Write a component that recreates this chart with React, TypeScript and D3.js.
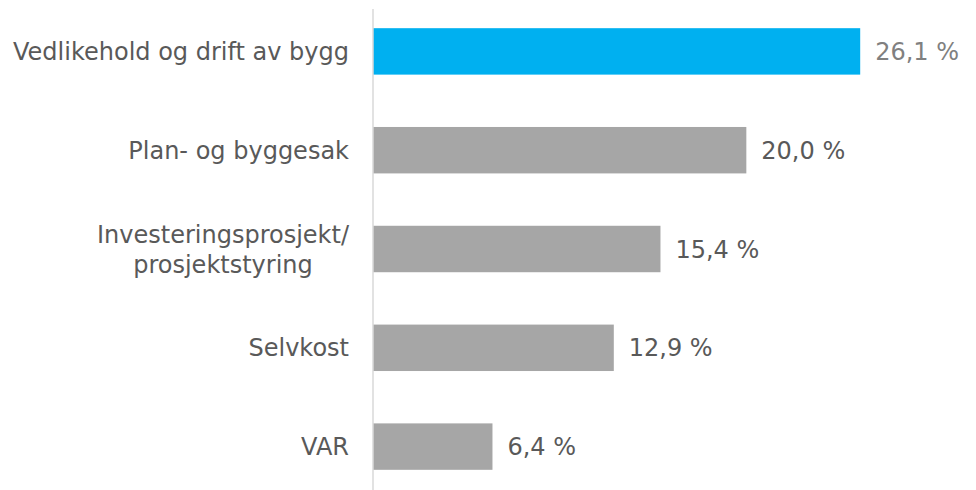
import React from "react";
import * as d3 from "d3";

const categories: string[][] = [
  ["Vedlikehold og drift av bygg"],
  ["Plan- og byggesak"],
  ["Investeringsprosjekt/", "prosjektstyring"],
  ["Selvkost"],
  ["VAR"],
];
const values: number[] = [26.1, 20.0, 15.4, 12.9, 6.4];
const valueLabels: string[] = ["26,1 %", "20,0 %", "15,4 %", "12,9 %", "6,4 %"];
const highlight: boolean[] = [true, false, false, false, false];

const W = 976;
const H = 490;
const axisX = 373;
const FONT = "'DejaVu Sans', Verdana, sans-serif";
const FS = 24;

let ctx: CanvasRenderingContext2D | null = null;
function measure(t: string): number {
  if (!ctx) {
    const c = document.createElement("canvas");
    ctx = c.getContext("2d");
  }
  if (!ctx) return t.length * FS * 0.55;
  ctx.font = `${FS}px ${FONT}`;
  return ctx.measureText(t).width;
}

export default function App() {
  const x = d3.scaleLinear().domain([0, 30]).range([axisX, axisX + 560]);
  const y = d3
    .scaleBand<number>()
    .domain(d3.range(values.length))
    .range([2, 496])
    .paddingInner(0.53)
    .paddingOuter(0.265);
  const labelRight = axisX - 24;
  return (
    <svg
      width={W}
      height={H}
      style={{ position: "absolute", left: 0, top: 0, background: "#fff" }}
      fontFamily={FONT}
    >
      {values.map((v, i) => {
        const yb = y(i)!;
        const bh = y.bandwidth();
        const cy = yb + bh / 2;
        const lines = categories[i];
        const lh = 30;
        const maxW = Math.max(...lines.map(measure));
        const cx = labelRight - maxW / 2;
        return (
          <g key={i}>
            <rect
              x={x(0)}
              y={yb}
              width={x(v) - x(0)}
              height={bh}
              fill={highlight[i] ? "#00b0f0" : "#a6a6a6"}
            />
            <text
              x={x(v) + 15}
              y={cy}
              dy="0.36em"
              fontSize={FS}
              fill={highlight[i] ? "#808080" : "#595959"}
            >
              {valueLabels[i]}
            </text>
            <text
              x={cx}
              y={cy - ((lines.length - 1) * lh) / 2}
              textAnchor="middle"
              fontSize={FS}
              fill="#595959"
            >
              {lines.map((l, j) => (
                <tspan key={j} x={cx} dy={j === 0 ? "0.36em" : lh}>
                  {l}
                </tspan>
              ))}
            </text>
          </g>
        );
      })}
      <line x1={axisX} x2={axisX} y1={9} y2={490} stroke="#d9d9d9" strokeWidth={1.5} />
    </svg>
  );
}
